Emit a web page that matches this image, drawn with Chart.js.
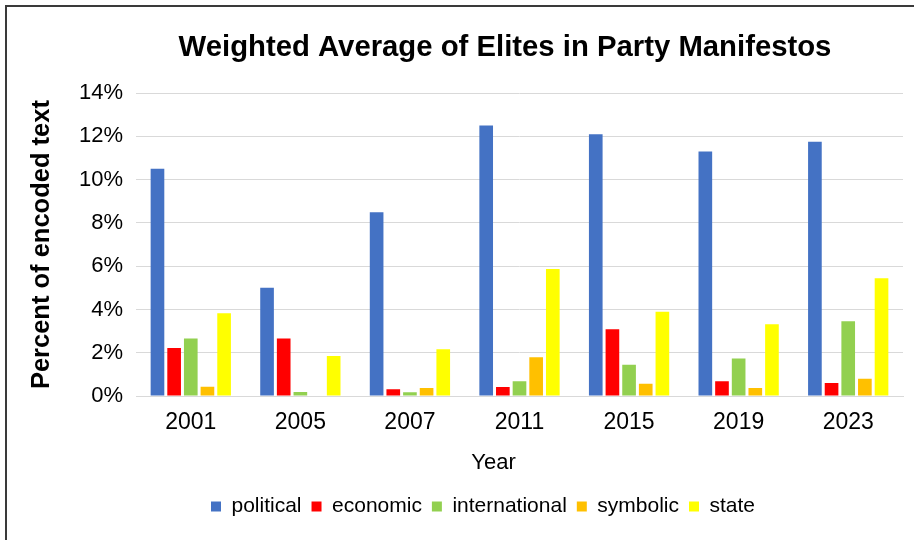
<!DOCTYPE html>
<html>
<head>
<meta charset="utf-8">
<script src="https://cdn.jsdelivr.net/npm/chart.js@4/dist/chart.umd.min.js"></script>
<style>
  html, body { margin: 0; padding: 0; background: #fff; }
  #wrap { position: relative; width: 914px; height: 540px; }
  #frame { position: absolute; left: 5px; top: 5px; width: 909px; height: 535px;
           border-left: 2px solid #3a3a3a; border-top: 2px solid #3a3a3a; pointer-events: none; box-sizing: border-box; }
</style>
</head>
<body>
<div id="wrap">
  <canvas id="c" width="914" height="540"></canvas>
  <div id="frame"></div>
</div>
<script>
const years = ['2001', '2005', '2007', '2011', '2015', '2019', '2023'];
const political     = [10.5, 5.0, 8.5, 12.5, 12.1, 11.3, 11.75];
const economic      = [2.22, 2.66, 0.31, 0.42, 3.09, 0.68, 0.60];
const international = [2.66, 0.18, 0.17, 0.68, 1.45, 1.73, 3.46];
const symbolic      = [0.43, 0, 0.37, 1.79, 0.57, 0.37, 0.80];
const state         = [3.83, 1.85, 2.16, 5.87, 3.89, 3.32, 5.44];
const yTicks = [0, 2, 4, 6, 8, 10, 12, 14];

const FONT = "'Liberation Sans', Arial, sans-serif";

const shiftPlugin = {
  id: 'shiftPlugin',
  afterLayout(chart) {
    const t = chart.titleBlock;
    if (t) { t.left += 40; t.right += 40; }
    const l = chart.legend;
    if (l) { l.left += 18; l.right += 18; }
    const x = chart.scales.x;
    if (x && !x._wrapped) {
      const orig = x.drawTitle;
      x.drawTitle = function () {
        const a = this.left, b = this.right;
        this.left -= 26; this.right -= 26;
        orig.apply(this, arguments);
        this.left = a; this.right = b;
      };
      x._wrapped = true;
    }
  }
};

const ds = (label, data, color) => ({
  label, data, backgroundColor: color, borderWidth: 0,
  categoryPercentage: 0.76, barPercentage: 0.82
});

new Chart(document.getElementById('c'), {
  type: 'bar',
  data: {
    labels: years,
    datasets: [
      ds('political', political, '#4472C4'),
      ds('economic', economic, '#FF0000'),
      ds('international', international, '#92D050'),
      ds('symbolic', symbolic, '#FFC000'),
      ds('state', state, '#FFFF00')
    ]
  },
  options: {
    responsive: false,
    animation: false,
    layout: { padding: { left: 27, right: 11, top: 10, bottom: 13 } },
    plugins: {
      title: {
        display: true,
        text: 'Weighted Average of Elites in Party Manifestos',
        color: '#000',
        font: { family: FONT, size: 29.3, weight: 'bold' },
        padding: { top: 20, bottom: 28 }
      },
      legend: {
        position: 'bottom',
        labels: {
          color: '#000',
          font: { family: FONT, size: 21 },
          boxWidth: 10, boxHeight: 10, padding: 10
        }
      },
      tooltip: { enabled: false }
    },
    scales: {
      x: {
        grid: { display: false, drawTicks: false },
        border: { display: true, color: '#D9D9D9', width: 1 },
        ticks: { color: '#000', font: { family: FONT, size: 23 }, padding: 13, maxRotation: 0 },
        title: {
          display: true, text: 'Year', color: '#000',
          font: { family: FONT, size: 22 },
          padding: { top: 0, bottom: 10 }
        }
      },
      y: {
        min: 0, max: 14,
        afterBuildTicks(scale) { scale.ticks = yTicks.map(v => ({ value: v })); },
        afterFit(scale) { scale.width = 109; },
        grid: { color: '#D9D9D9', lineWidth: 1, drawTicks: false },
        border: { display: false },
        ticks: {
          color: '#000', font: { family: FONT, size: 22 }, padding: 13,
          callback: v => v + '%'
        },
        title: {
          display: true, text: 'Percent of encoded text', color: '#000',
          font: { family: FONT, size: 25.5, weight: 'bold' },
          padding: { top: 0, bottom: 0 }
        }
      }
    }
  },
  plugins: [shiftPlugin]
});
</script>
</body>
</html>
